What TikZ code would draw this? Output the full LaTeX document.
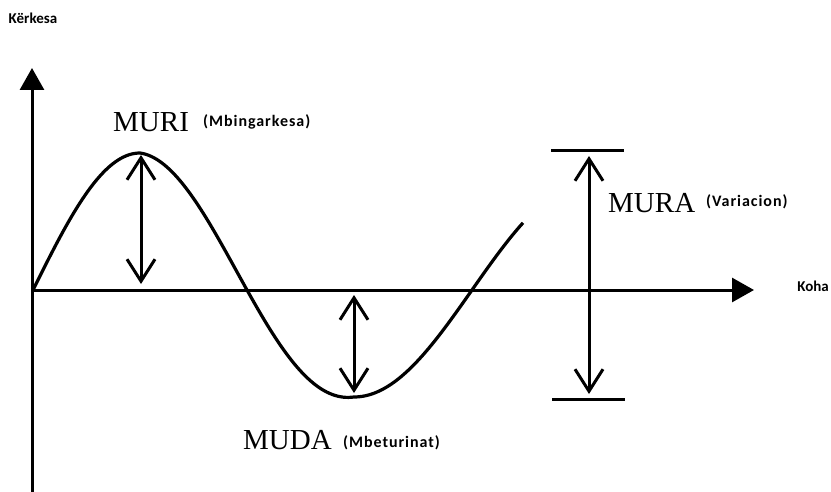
\documentclass[tikz,border=0pt]{standalone}
\usepackage{fontspec}
\setmainfont{Liberation Serif}
\newfontfamily\axisfont{Carlito}
\newfontfamily\notefont[LetterSpace=6]{Carlito}
\usetikzlibrary{arrows.meta}

\begin{document}
\begin{tikzpicture}[x=1pt,y=-1pt,line join=round,
  axis/.style={line width=3pt,-{Triangle[length=22pt,width=24pt]}},
  wave/.style={line width=3.2pt},
  span/.style={line width=3pt,
    {Straight Barb[length=22pt,width=28pt]}-{Straight Barb[length=22pt,width=28pt]}},
  bar/.style={line width=3pt},
  big/.style={font=\fontsize{29}{32}\selectfont,inner sep=0pt},
  note/.style={font=\notefont\bfseries\fontsize{16}{18}\selectfont,inner sep=0pt},
  axlab/.style={font=\axisfont\bfseries\fontsize{15}{17}\selectfont,inner sep=0pt}]

  \useasboundingbox (0,0) rectangle (831,492);

  % ---- axes ----
  \coordinate (orig) at (32,290);
  \coordinate (ytop) at (32,68);
  \coordinate (ybot) at (32,492);
  \coordinate (xend) at (754,290);
  \draw[axis] (ybot) -- (ytop);
  \draw[axis] (orig) -- (xend);
  \node[axlab,anchor=base] (kerkesa) at (33,24) {Kërkesa};
  \node[axlab,anchor=base east] (koha) at (829,291) {Koha};

  % ---- wave ----
  \draw[wave] plot[domain=33:140,samples=40] (\x,{290-137*sin((\x-33)/107*90)})
    -- plot[domain=140:354,samples=80] (\x,{290-(137-(\x-140)/214*30)*sin(90+(\x-140)/214*180)})
    -- plot[domain=354:523,samples=60] (\x,{290-107*sin(270+(\x-354)/118*90)});

  % ---- muri (peak) ----
  \coordinate (peak) at (141,155);
  \coordinate (peakfoot) at (141,284);
  \draw[span] (peak) -- (peakfoot);
  \node[big,anchor=base west] (muri) at (113,132) {MURI};
  \node[note,anchor=base west] (murinote) at (203,127) {(Mbingarkesa)};

  % ---- muda (trough) ----
  \coordinate (troughtop) at (354,295);
  \coordinate (trough) at (354,393);
  \draw[span] (troughtop) -- (trough);
  \node[big,anchor=base west] (muda) at (243,449) {MUDA};
  \node[note,anchor=base west] (mudanote) at (343,447) {(Mbeturinat)};

  % ---- mura (range) ----
  \coordinate (barTl) at (551,151);
  \coordinate (barTr) at (624,151);
  \coordinate (barBl) at (552,399);
  \coordinate (barBr) at (625,399);
  \draw[bar] (barTl) -- (barTr);
  \draw[bar] (barBl) -- (barBr);
  \coordinate (rangetop) at (589,156);
  \coordinate (rangebot) at (589,394);
  \draw[span] (rangetop) -- (rangebot);
  \node[big,anchor=base west] (mura) at (608,213) {MURA};
  \node[note,anchor=base west] (muranote) at (706,207) {(Variacion)};
\end{tikzpicture}
\end{document}
